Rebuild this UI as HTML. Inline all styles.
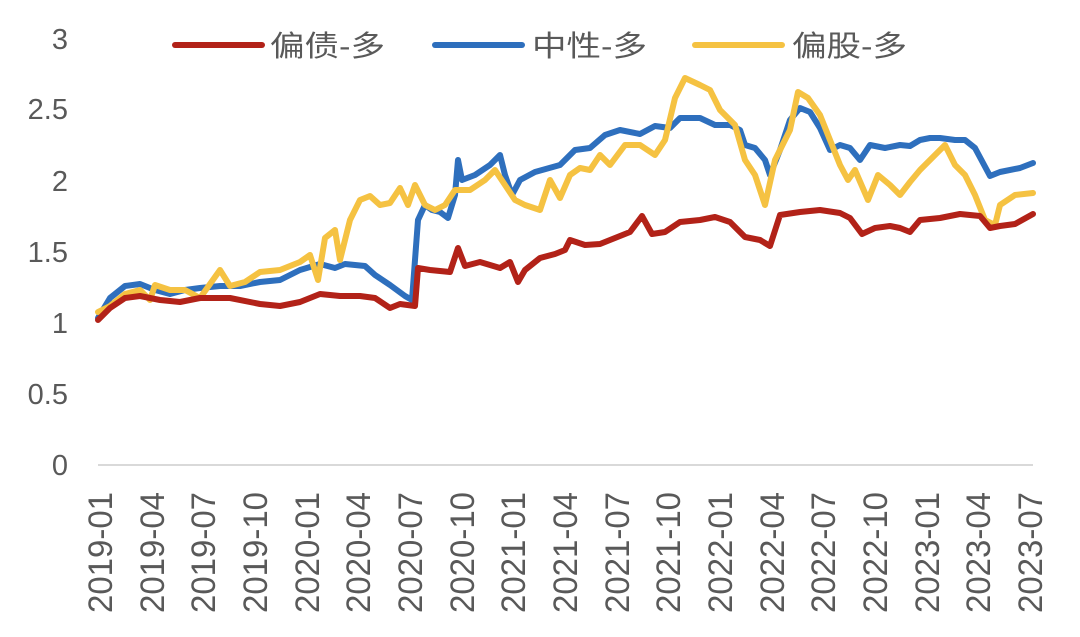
<!DOCTYPE html>
<html><head><meta charset="utf-8"><style>
body{margin:0;background:#fff}
svg text{font-family:"Liberation Sans","Noto Sans CJK SC",sans-serif;fill:#595959}
</style></head><body>
<svg width="1080" height="632" viewBox="0 0 1080 632" xmlns="http://www.w3.org/2000/svg">
<g font-size="29" text-anchor="end">
<text x="68" y="475">0</text>
<text x="68" y="404">0.5</text>
<text x="68" y="333">1</text>
<text x="68" y="262">1.5</text>
<text x="68" y="191">2</text>
<text x="68" y="119">2.5</text>
<text x="68" y="49">3</text>
</g>
<line x1="98" y1="465" x2="1033" y2="465" stroke="#d9d9d9" stroke-width="2"/>
<g font-size="34" text-anchor="end">
<text transform="translate(112,492) rotate(-90)" textLength="121" lengthAdjust="spacingAndGlyphs">2019-01</text>
<text transform="translate(164,492) rotate(-90)" textLength="121" lengthAdjust="spacingAndGlyphs">2019-04</text>
<text transform="translate(215,492) rotate(-90)" textLength="121" lengthAdjust="spacingAndGlyphs">2019-07</text>
<text transform="translate(267,492) rotate(-90)" textLength="121" lengthAdjust="spacingAndGlyphs">2019-10</text>
<text transform="translate(319,492) rotate(-90)" textLength="121" lengthAdjust="spacingAndGlyphs">2020-01</text>
<text transform="translate(370,492) rotate(-90)" textLength="121" lengthAdjust="spacingAndGlyphs">2020-04</text>
<text transform="translate(422,492) rotate(-90)" textLength="121" lengthAdjust="spacingAndGlyphs">2020-07</text>
<text transform="translate(474,492) rotate(-90)" textLength="121" lengthAdjust="spacingAndGlyphs">2020-10</text>
<text transform="translate(525,492) rotate(-90)" textLength="121" lengthAdjust="spacingAndGlyphs">2021-01</text>
<text transform="translate(577,492) rotate(-90)" textLength="121" lengthAdjust="spacingAndGlyphs">2021-04</text>
<text transform="translate(629,492) rotate(-90)" textLength="121" lengthAdjust="spacingAndGlyphs">2021-07</text>
<text transform="translate(680,492) rotate(-90)" textLength="121" lengthAdjust="spacingAndGlyphs">2021-10</text>
<text transform="translate(732,492) rotate(-90)" textLength="121" lengthAdjust="spacingAndGlyphs">2022-01</text>
<text transform="translate(784,492) rotate(-90)" textLength="121" lengthAdjust="spacingAndGlyphs">2022-04</text>
<text transform="translate(835,492) rotate(-90)" textLength="121" lengthAdjust="spacingAndGlyphs">2022-07</text>
<text transform="translate(887,492) rotate(-90)" textLength="121" lengthAdjust="spacingAndGlyphs">2022-10</text>
<text transform="translate(939,492) rotate(-90)" textLength="121" lengthAdjust="spacingAndGlyphs">2023-01</text>
<text transform="translate(990,492) rotate(-90)" textLength="121" lengthAdjust="spacingAndGlyphs">2023-04</text>
<text transform="translate(1042,492) rotate(-90)" textLength="121" lengthAdjust="spacingAndGlyphs">2023-07</text>
</g>
<g fill="none" stroke-width="6" stroke-linejoin="round" stroke-linecap="round">
<polyline stroke="#2e6fbd" points="98,318 110,298 125,286 140,284 155,290 170,294 185,290 200,288 220,286 240,286 260,282 280,280 300,270 320,264 335,268 345,264 365,266 375,275 390,285 405,296 412,300 418,220 425,205 432,210 440,212 448,218 455,195 458,160 462,180 475,175 490,165 500,155 505,175 512,195 520,180 535,172 560,165 575,150 590,148 605,135 620,130 640,134 655,126 670,128 680,118 700,118 715,125 730,125 740,130 745,145 755,148 765,160 770,175 780,150 790,120 800,108 810,112 820,128 830,150 840,145 850,148 860,160 870,145 885,148 900,145 910,146 920,140 930,138 940,138 955,140 965,140 975,148 990,176 1000,172 1020,168 1033,163"/>
<polyline stroke="#f5c242" points="98,312 110,306 125,294 140,290 150,300 155,285 170,290 185,290 200,298 220,270 230,286 245,282 260,272 280,270 300,262 310,255 318,280 325,238 335,230 340,260 350,220 360,200 370,196 380,205 390,203 400,188 408,205 415,185 425,205 435,210 445,205 455,190 470,190 485,180 495,170 505,185 515,200 525,205 540,210 550,180 560,198 570,175 580,168 590,170 600,155 610,165 625,145 640,145 655,155 665,140 675,98 685,78 700,85 710,90 720,110 735,125 745,160 755,175 765,205 775,160 790,130 798,92 808,98 820,115 830,140 840,165 848,180 855,170 868,200 878,175 890,185 900,195 910,182 920,170 935,155 945,145 955,165 965,175 975,195 985,220 995,225 1000,205 1015,195 1033,193"/>
<polyline stroke="#b22218" points="98,320 110,308 125,298 140,296 160,300 180,302 200,298 230,298 260,304 280,306 300,302 320,294 340,296 360,296 375,298 390,308 400,304 415,306 418,268 430,270 450,272 458,248 465,266 480,262 500,268 510,262 518,282 525,270 540,258 555,254 565,250 570,240 585,245 600,244 615,238 630,232 642,216 652,234 665,232 680,222 700,220 715,217 730,222 745,237 760,240 770,246 780,215 800,212 820,210 840,213 850,218 862,234 875,228 890,226 900,228 910,232 920,220 940,218 960,214 980,216 990,228 1000,226 1015,224 1033,214"/>
</g>
<g stroke-width="6" stroke-linecap="round">
<line x1="175" y1="45" x2="262" y2="45" stroke="#b22218"/>
<line x1="435" y1="45" x2="522" y2="45" stroke="#2e6fbd"/>
<line x1="695" y1="45" x2="782" y2="45" stroke="#f5c242"/>
</g>
<g font-size="29">
<text x="270" y="56" textLength="115" lengthAdjust="spacingAndGlyphs">偏债-多</text>
<text x="532" y="56" textLength="115" lengthAdjust="spacingAndGlyphs">中性-多</text>
<text x="792" y="56" textLength="115" lengthAdjust="spacingAndGlyphs">偏股-多</text>
</g>
</svg>
</body></html>
